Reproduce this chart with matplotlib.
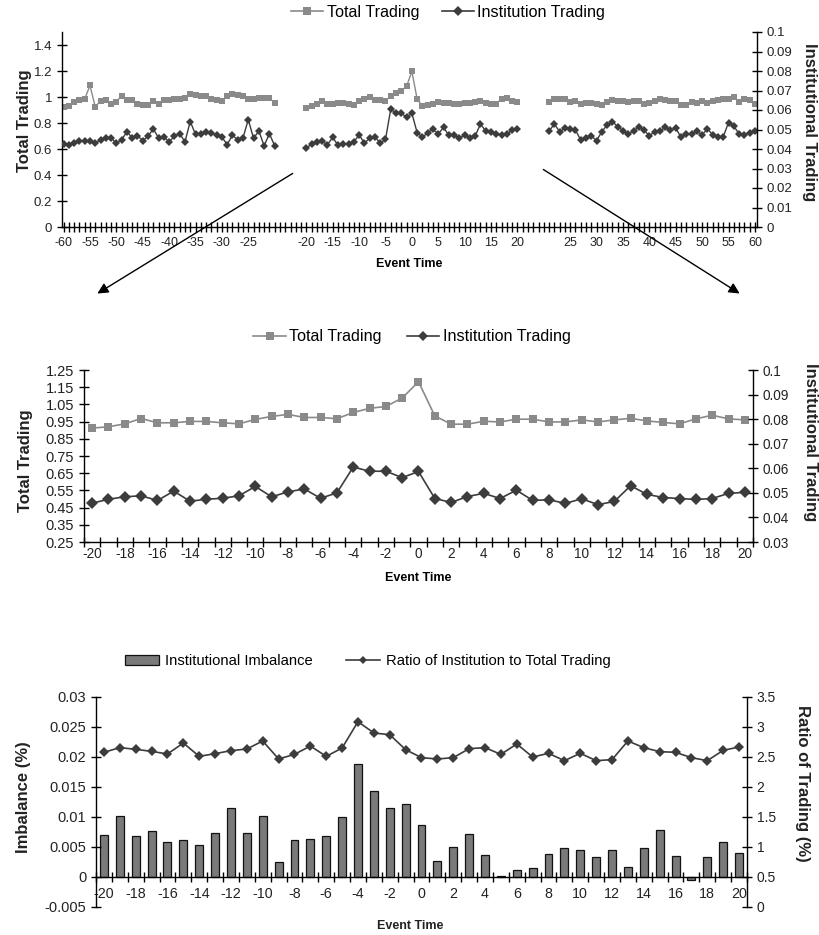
import matplotlib
matplotlib.use("Agg")
import matplotlib.pyplot as plt
import numpy as np
from matplotlib.patches import FancyArrowPatch, Patch
from matplotlib.lines import Line2D

plt.rcParams['font.family'] = ['Liberation Sans', 'DejaVu Sans']

# ---------------- data: top panel (event window -60..60) ----------------
left_times = list(range(-60, -19))       # -60 .. -20
mid_times = list(range(-20, 21))         # -20 .. 20
right_times = list(range(21, 61))        # 21 .. 60

left_total = [0.924, 0.927, 0.963, 0.974, 0.984, 1.089, 0.924, 0.971, 0.979, 0.945,
              0.963, 1.010, 0.979, 0.974, 0.950, 0.937, 0.942, 0.971, 0.945, 0.979,
              0.979, 0.982, 0.984, 0.990, 1.021, 1.013, 1.010, 1.005, 0.984, 0.979,
              0.969, 1.005, 1.026, 1.016, 1.010, 0.984, 0.984, 0.990, 0.995, 0.992, 0.953]
left_inst = [0.0426, 0.0423, 0.0433, 0.0440, 0.0440, 0.0440, 0.0429, 0.0447, 0.0454, 0.0457,
             0.0429, 0.0447, 0.0489, 0.0457, 0.0468, 0.0443, 0.0465, 0.0503, 0.0457, 0.0461,
             0.0437, 0.0465, 0.0479, 0.0437, 0.0541, 0.0475, 0.0479, 0.0489, 0.0482, 0.0471,
             0.0461, 0.0423, 0.0471, 0.0447, 0.0457, 0.0551, 0.0454, 0.0493, 0.0416, 0.0479, 0.0416]
mid_total_top = [0.917, 0.927, 0.946, 0.971, 0.946, 0.946, 0.951, 0.951, 0.946, 0.938,
                 0.969, 0.984, 1.000, 0.977, 0.977, 0.969, 1.008, 1.034, 1.044, 1.083,
                 1.197, 0.983, 0.931, 0.939, 0.947, 0.965, 0.957, 0.957, 0.947, 0.947,
                 0.952, 0.952, 0.962, 0.970, 0.957, 0.947, 0.947, 0.988, 0.996, 0.970, 0.962]
mid_inst_top = [0.0405, 0.0425, 0.0436, 0.0439, 0.0422, 0.0460, 0.0419, 0.0425, 0.0425, 0.0436,
                0.0473, 0.0429, 0.0456, 0.0463, 0.0429, 0.0449, 0.0605, 0.0583, 0.0583, 0.0563,
                0.0583, 0.0484, 0.0460, 0.0484, 0.0501, 0.0477, 0.0511, 0.0470, 0.0473, 0.0455,
                0.0473, 0.0455, 0.0467, 0.0528, 0.0492, 0.0487, 0.0479, 0.0473, 0.0477, 0.0497, 0.0503]
right_total = [0.965, 0.983, 0.983, 0.983, 0.965, 0.972, 0.947, 0.952, 0.952, 0.947,
               0.939, 0.965, 0.978, 0.972, 0.972, 0.962, 0.967, 0.967, 0.947, 0.957,
               0.972, 0.983, 0.978, 0.972, 0.967, 0.942, 0.936, 0.962, 0.957, 0.972,
               0.957, 0.967, 0.978, 0.983, 0.988, 1.003, 0.962, 0.988, 0.978, 0.947]
right_inst = [0.0492, 0.0528, 0.0489, 0.0506, 0.0501, 0.0497, 0.0446, 0.0455, 0.0467, 0.0443,
              0.0489, 0.0523, 0.0540, 0.0515, 0.0494, 0.0477, 0.0494, 0.0511, 0.0497, 0.0467,
              0.0489, 0.0491, 0.0511, 0.0497, 0.0508, 0.0460, 0.0477, 0.0477, 0.0491, 0.0472,
              0.0504, 0.0473, 0.0460, 0.0463, 0.0535, 0.0518, 0.0477, 0.0473, 0.0484, 0.0491]
top_tick_labels = [-60, -55, -50, -45, -40, -35, -30, -25, -20, -15, -10, -5, 0, 5, 10, 15, 20,
                   25, 30, 35, 40, 45, 50, 55, 60]

# ---------------- data: middle panel (-20..20) ----------------
event = list(range(-20, 21))
mid_total = [0.912, 0.920, 0.937, 0.968, 0.943, 0.943, 0.951, 0.951, 0.943, 0.937,
             0.963, 0.980, 0.992, 0.974, 0.974, 0.967, 1.003, 1.027, 1.038, 1.087,
             1.182, 0.983, 0.935, 0.935, 0.952, 0.948, 0.964, 0.964, 0.948, 0.948,
             0.960, 0.948, 0.960, 0.969, 0.954, 0.945, 0.937, 0.966, 0.987, 0.966, 0.960]
mid_inst = [0.0458, 0.0474, 0.0484, 0.0488, 0.0469, 0.0507, 0.0466, 0.0474, 0.0478, 0.0488,
            0.0526, 0.0484, 0.0504, 0.0516, 0.0478, 0.0500, 0.0605, 0.0588, 0.0588, 0.0562,
            0.0587, 0.0477, 0.0461, 0.0485, 0.0498, 0.0477, 0.0511, 0.0469, 0.0472, 0.0457,
            0.0476, 0.0452, 0.0465, 0.0529, 0.0494, 0.0481, 0.0477, 0.0473, 0.0477, 0.0498, 0.0502]

# ---------------- data: bottom panel (-20..20) ----------------
imbalance = [0.00706, 0.0101, 0.00683, 0.0076, 0.00578, 0.00622, 0.00533, 0.00733, 0.0115, 0.00733,
             0.0101, 0.00256, 0.00622, 0.00639, 0.00683, 0.00994, 0.0188, 0.0144, 0.0115, 0.0121,
             0.0087, 0.00272, 0.0050, 0.00722, 0.00361, 0.0002, 0.00122, 0.0015, 0.00378, 0.00489,
             0.00456, 0.00333, 0.00444, 0.00161, 0.00489, 0.00783, 0.0035, -0.0005, 0.00333, 0.00583, 0.0040]
ratio = [2.578, 2.656, 2.628, 2.594, 2.550, 2.733, 2.511, 2.556, 2.606, 2.633,
         2.767, 2.467, 2.544, 2.683, 2.511, 2.650, 3.089, 2.900, 2.872, 2.622,
         2.489, 2.467, 2.489, 2.639, 2.656, 2.544, 2.717, 2.500, 2.561, 2.439,
         2.561, 2.439, 2.456, 2.767, 2.656, 2.589, 2.578, 2.489, 2.439, 2.611, 2.667]

# ---------------- styles ----------------
GRAY = '#8a8a8a'
DARK = '#3c3c3c'
TXT = '#222222'
LAB_FS = 12
EV_FS = 9

fig = plt.figure(figsize=(8.2, 9.35), dpi=100)


def style_axis(ax, left=True, right=False, fs=9.5):
    ax.spines['top'].set_visible(False)
    ax.spines['left'].set_visible(left)
    ax.spines['right'].set_visible(right)
    for s in ax.spines.values():
        s.set_linewidth(1.0)
        s.set_color('black')
    ax.tick_params(direction='inout', length=7, width=1, labelsize=fs, colors='black',
                   labelcolor=TXT)


def ylab(x, y, text, rot):
    fig.text(x / 820, 1 - y / 935, text, rotation=rot, ha='center', va='center',
             fontsize=LAB_FS, fontweight='bold', color=TXT)


# ================= TOP PANEL =================
gap = 6
left_pos = np.arange(len(left_times))
mid_pos = left_pos[-1] + gap + np.arange(len(mid_times))
right_pos = mid_pos[-1] + gap + np.arange(len(right_times))
time_to_pos = {}
for t, p in zip(left_times, left_pos):
    time_to_pos[t] = p
for t, p in zip(mid_times, mid_pos):
    time_to_pos[t] = p
for t, p in zip(right_times, right_pos):
    time_to_pos[t] = p

ax1 = fig.add_axes([62 / 820, 1 - 227 / 935, 695 / 820, 195 / 935])
ax1r = ax1.twinx()
style_axis(ax1, fs=9.5)
style_axis(ax1r, left=False, right=True, fs=9.5)
ax1r.spines['bottom'].set_visible(False)

mk_t = dict(color=GRAY, marker='s', markersize=4.8, lw=1.0, markeredgewidth=0)
mk_i = dict(color=DARK, marker='D', markersize=4.3, lw=1.0, markeredgewidth=0)
for pos, tot in [(left_pos, left_total), (mid_pos, mid_total_top), (right_pos, right_total)]:
    ax1.plot(pos, tot, **mk_t)
for pos, ins in [(left_pos, left_inst), (mid_pos, mid_inst_top), (right_pos, right_inst)]:
    ax1r.plot(pos, ins, **mk_i)

ax1.set_xlim(-0.3, right_pos[-1] + 0.4)
ax1.set_ylim(0, 1.5)
ax1.set_yticks(np.arange(0, 1.41, 0.2))
ax1.set_yticklabels(['0', '0.2', '0.4', '0.6', '0.8', '1', '1.2', '1.4'])
ax1r.set_ylim(0, 0.1)
ax1r.set_yticks(np.arange(0, 0.1001, 0.01))
ax1r.set_yticklabels(['0'] + ['%g' % v for v in np.round(np.arange(0.01, 0.1001, 0.01), 2)])
ax1.set_xticks([time_to_pos[t] for t in top_tick_labels])
ax1.set_xticklabels([str(t) for t in top_tick_labels])
ax1.set_xticks(np.arange(0, right_pos[-1] + 1), minor=True)
ax1.tick_params(axis='x', which='both', direction='inout', length=7, width=1, pad=4, labelsize=9)
ax1.set_xlabel('Event Time', fontsize=EV_FS, fontweight='bold', labelpad=6)
ylab(25, 121, 'Total Trading', 90)
ylab(810, 122, 'Institutional Trading', -90)

h_t = Line2D([], [], color=GRAY, marker='s', markersize=6, lw=1.2, markeredgewidth=0)
h_i = Line2D([], [], color=DARK, marker='D', markersize=5, lw=1.2, markeredgewidth=0)
fig.legend([h_t, h_i], ['Total Trading', 'Institution Trading'], loc='center',
           bbox_to_anchor=(448 / 820, 1 - 12 / 935), ncol=2, frameon=False,
           fontsize=11.6, handlelength=2.0, columnspacing=1.4, handletextpad=0.2)

# ================= MIDDLE PANEL =================
ax2 = fig.add_axes([84 / 820, 1 - 542 / 935, 669 / 820, 172 / 935])
ax2r = ax2.twinx()
style_axis(ax2, fs=10.5)
style_axis(ax2r, left=False, right=True, fs=9.8)
ax2r.spines['bottom'].set_visible(False)
ax2.plot(event, mid_total, color=GRAY, marker='s', markersize=6.3, lw=1.2, markeredgewidth=0)
ax2r.plot(event, mid_inst, color=DARK, marker='D', markersize=6, lw=1.2, markeredgewidth=0)
ax2.set_xlim(-20.5, 20.5)
ax2.set_ylim(0.25, 1.25)
ax2.set_yticks(np.arange(0.25, 1.26, 0.1))
ax2.set_yticklabels(['%.2f' % v for v in np.arange(0.25, 1.26, 0.1)])
ax2r.set_ylim(0.03, 0.1)
ax2r.set_yticks(np.arange(0.03, 0.1001, 0.01))
ax2r.set_yticklabels(['%g' % v for v in np.round(np.arange(0.03, 0.1001, 0.01), 2)])
ax2.set_xticks(np.arange(-20, 21, 2))
ax2.set_xticklabels([str(v) for v in range(-20, 21, 2)])
ax2.set_xticks(np.arange(-20.5, 20.6, 1), minor=True)
ax2.tick_params(axis='x', which='major', length=0, pad=3.5, labelsize=9.8)
ax2.tick_params(axis='x', which='minor', direction='inout', length=7, width=1)
ax2.set_xlabel('Event Time', fontsize=EV_FS, fontweight='bold', labelpad=8)
ylab(26, 461, 'Total Trading', 90)
ylab(811, 442, 'Institutional Trading', -90)

fig.legend([h_t, h_i], ['Total Trading', 'Institution Trading'], loc='center',
           bbox_to_anchor=(412 / 820, 1 - 337 / 935), ncol=2, frameon=False,
           fontsize=11.6, handlelength=2.0, columnspacing=1.6, handletextpad=0.2)

# ================= BOTTOM PANEL =================
ax3 = fig.add_axes([96 / 820, 1 - 907 / 935, 651 / 820, 210 / 935])
ax3r = ax3.twinx()
style_axis(ax3, fs=10.5)
style_axis(ax3r, left=False, right=True, fs=10)
ax3r.spines['bottom'].set_visible(False)
ax3.bar(event, imbalance, width=0.5, color='#7a7a7a', edgecolor='#111111', linewidth=0.9)
ax3r.plot(event, ratio, color=DARK, marker='D', markersize=5, lw=1.2, markeredgewidth=0)
ax3.set_xlim(-20.5, 20.5)
ax3.set_ylim(-0.005, 0.03)
ax3.set_yticks(np.arange(-0.005, 0.0301, 0.005))
ax3.set_yticklabels(['-0.005', '0', '0.005', '0.01', '0.015', '0.02', '0.025', '0.03'])
ax3r.set_ylim(0, 3.5)
ax3r.set_yticks(np.arange(0, 3.51, 0.5))
ax3r.set_yticklabels(['0', '0.5', '1', '1.5', '2', '2.5', '3', '3.5'])
ax3.spines['bottom'].set_position(('data', 0))
ax3.set_xticks(np.arange(-20, 21, 2))
ax3.set_xticklabels([str(v) for v in range(-20, 21, 2)])
ax3.set_xticks(np.arange(-20.5, 20.6, 1), minor=True)
ax3.tick_params(axis='x', which='major', length=0, pad=7, labelsize=10.3)
ax3.tick_params(axis='x', which='minor', direction='inout', length=7, width=1)
fig.text(410 / 820, 1 - 926 / 935, 'Event Time', fontsize=EV_FS, fontweight='bold',
         ha='center', va='center', color=TXT)
ylab(24, 797, 'Imbalance (%)', 90)
ylab(803, 783, 'Ratio of Trading (%)', -90)

h_b = Patch(facecolor='#7a7a7a', edgecolor='#111111', linewidth=0.9)
h_r = Line2D([], [], color=DARK, marker='D', markersize=4.5, lw=1.2, markeredgewidth=0)
fig.legend([h_b, h_r], ['Institutional Imbalance', 'Ratio of Institution to Total Trading'],
           loc='center', bbox_to_anchor=(368 / 820, 1 - 661 / 935), ncol=2, frameon=False,
           fontsize=10.6, handlelength=2.3, handleheight=0.7, columnspacing=2.3, handletextpad=0.4)

# ================= ARROWS =================
for (xa, ya), (xb, yb) in [((295, 172), (95, 295)), ((541, 168), (742, 295))]:
    arr = FancyArrowPatch((xa / 820, 1 - ya / 935), (xb / 820, 1 - yb / 935),
                          transform=fig.transFigure, arrowstyle='-|>', mutation_scale=16,
                          color='black', lw=1.0)
    fig.add_artist(arr)

fig.savefig('out.png', dpi=100)
